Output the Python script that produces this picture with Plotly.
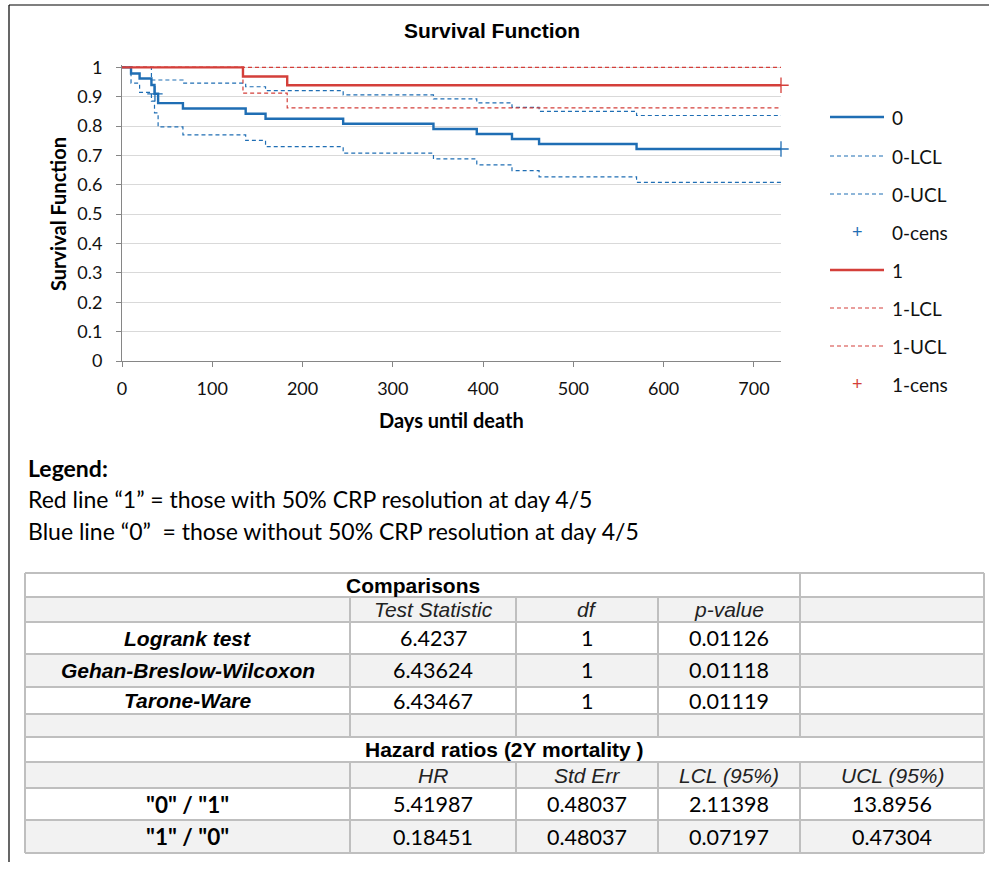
import plotly.graph_objects as go

# ---------------- data ----------------
days0 = [0, 10, 19.5, 32.6, 36, 40, 67.5, 137, 159, 245, 345, 393, 432, 462, 570, 730]
surv0 = [1, 0.979, 0.962, 0.940, 0.910, 0.878, 0.860, 0.842, 0.825, 0.808, 0.790, 0.773, 0.756, 0.739, 0.722, 0.722]
lcl0 = [1, 0.946, 0.915, 0.885, 0.845, 0.797, 0.770, 0.751, 0.730, 0.708, 0.688, 0.668, 0.648, 0.627, 0.608, 0.608]
ucl0 = [1, 1, 1, 0.957, 0.957, 0.957, 0.946, 0.934, 0.921, 0.906, 0.8925, 0.879, 0.864, 0.850, 0.836, 0.836]
cens0_days = [36.5, 730]
cens0_surv = [0.910, 0.722]

days1 = [0, 134, 183, 730]
surv1 = [1, 0.969, 0.939, 0.939]
lcl1 = [1, 0.912, 0.862, 0.862]
ucl1 = [1, 1, 1, 1]
cens1_days = [730]
cens1_surv = [0.939]

legend_names = ["0", "0-LCL", "0-UCL", "0-cens", "1", "1-LCL", "1-UCL", "1-cens"]

x_ticks = [0, 100, 200, 300, 400, 500, 600, 700]
y_ticks = [0, 0.1, 0.2, 0.3, 0.4, 0.5, 0.6, 0.7, 0.8, 0.9, 1]
y_tick_labels = ["0", "0.1", "0.2", "0.3", "0.4", "0.5", "0.6", "0.7", "0.8", "0.9", "1"]

note_title = "Legend:"
note_lines = ["Red line \u201c1\u201d = those with 50% CRP resolution at day 4/5",
              "Blue line \u201c0\u201d  = those without 50% CRP resolution at day 4/5"]

comp_header = "Comparisons"
comp_cols = ["Test Statistic", "df", "p-value"]
comp_rows = ["Logrank test", "Gehan-Breslow-Wilcoxon", "Tarone-Ware"]
comp_stat = ["6.4237", "6.43624", "6.43467"]
comp_df = ["1", "1", "1"]
comp_p = ["0.01126", "0.01118", "0.01119"]

hr_header = "Hazard ratios (2Y mortality )"
hr_cols = ["HR", "Std Err", "LCL (95%)", "UCL (95%)"]
hr_rows = ['"0" / "1"', '"1" / "0"']
hr_val = ["5.41987", "0.18451"]
hr_se = ["0.48037", "0.48037"]
hr_lcl = ["2.11398", "0.07197"]
hr_ucl = ["13.8956", "0.47304"]

# ---------------- styling ----------------
BLUE = "#1f6eb4"
RED = "#d43f3a"
W, H = 989, 869
ML, MR, MT, MB = 122, 208, 65, 508
PW, PH = W - ML - MR, H - MT - MB
CAL = "Lato, 'Noto Sans', sans-serif"
ARI = "'Liberation Sans', Arial, sans-serif"


def px(x):
    return (x - ML) / PW


def py(y):
    return (H - MB - y) / PH


fig = go.Figure()

def step(x, y, color, width, dash):
    fig.add_trace(go.Scatter(x=x, y=y, mode="lines", line=dict(color=color, width=width, dash=dash, shape="hv"),
                             showlegend=False, hoverinfo="skip"))

step(days0, lcl0, BLUE, 1.2, "4px,3px")
step(days0, ucl0, BLUE, 1.2, "4px,3px")
step(days1, lcl1, RED, 1.2, "4px,3px")
step(days1, ucl1, RED, 1.2, "4px,3px")
step(days0, surv0, BLUE, 2.4, "solid")
step(days1, surv1, RED, 2.4, "solid")
fig.add_trace(go.Scatter(x=cens0_days, y=cens0_surv, mode="markers", cliponaxis=False,
                         marker=dict(symbol="cross-thin", size=11, line=dict(color=BLUE, width=1.3)),
                         showlegend=False, hoverinfo="skip"))
fig.add_trace(go.Scatter(x=cens1_days, y=cens1_surv, mode="markers", cliponaxis=False,
                         marker=dict(symbol="cross-thin", size=11, line=dict(color=RED, width=1.3)),
                         showlegend=False, hoverinfo="skip"))

shapes = []
annotations = []

def line(x0, y0, x1, y1, color, width=1, dash="solid"):
    shapes.append(dict(type="line", xref="paper", yref="paper", x0=px(x0), y0=py(y0), x1=px(x1), y1=py(y1),
                       line=dict(color=color, width=width, dash=dash)))

def rect(x0, y0, x1, y1, fill):
    shapes.append(dict(type="rect", xref="paper", yref="paper", x0=px(x0), y0=py(y0), x1=px(x1), y1=py(y1),
                       line=dict(width=0), fillcolor=fill, layer="below"))

def text(x, y, s, size, family, color="#000", bold=False, italic=False, anchor="center", angle=0):
    if bold:
        s = "<b>" + s + "</b>"
    if italic:
        s = "<i>" + s + "</i>"
    annotations.append(dict(x=px(x), y=py(y), xref="paper", yref="paper", text=s, showarrow=False,
                            xanchor=anchor, yanchor="middle", textangle=angle,
                            font=dict(size=size, family=family, color=color)))

# frame lines
line(9, 5, 989, 5, "#000", 1.2)
line(9, 5, 9, 862, "#000", 1.2)

# titles
text(492, 30, "Survival Function", 21, ARI, bold=True)
text(451, 420, "Days until death", 20, CAL, bold=True)
text(58, 214, "Survival Function", 20, CAL, bold=True, angle=-90)

# legend (manual)
leg_y = [117, 156, 194, 232, 270, 308, 346, 384]
leg_style = [(BLUE, "solid"), (BLUE, "dash"), (BLUE, "dash"), (BLUE, "cens"),
             (RED, "solid"), (RED, "dash"), (RED, "dash"), (RED, "cens")]
for name, yy, (col, kind) in zip(legend_names, leg_y, leg_style):
    if kind == "solid":
        line(830, yy, 884, yy, col, 2.4)
    elif kind == "dash":
        line(830, yy, 884, yy, col, 1.2, "4px,3px")
    else:
        text(857, yy, "+", 18, ARI, color=col)
    text(890, yy, name, 19, CAL, color="#111", anchor="left")

# note text
text(26, 468, note_title, 23, CAL, bold=True, anchor="left")
text(26, 499, note_lines[0], 23, CAL, anchor="left")
text(26, 531, note_lines[1], 23, CAL, anchor="left")

# table
cols = [25, 350, 516, 658, 800, 984]
rows = [573, 597, 622, 654, 687, 714, 737, 762, 788, 820, 853]
GRAY = "#f2f2f2"
GRID = "#bfbfbf"
for r in [1, 3, 5, 7, 9]:
    rect(cols[0], rows[r], cols[-1], rows[r + 1], GRAY)
for yy in rows:
    line(cols[0], yy, cols[-1], yy, GRID, 2)
line(cols[0], rows[0], cols[0], rows[-1], GRID, 2)
line(cols[-1], rows[0], cols[-1], rows[-1], GRID, 2)
for r in range(len(rows) - 1):
    for ci in range(1, 5):
        if r == 0 and ci < 4:
            continue
        if r == 6:
            continue
        line(cols[ci], rows[r], cols[ci], rows[r + 1], GRID, 2)

def mid(i):
    return (rows[i] + rows[i + 1]) / 2

def cmid(i):
    return (cols[i] + cols[i + 1]) / 2

NUM = 21.5
HDR = 21
text((cols[0] + cols[4]) / 2, mid(0), comp_header, HDR, ARI, bold=True)
for j, c in enumerate(comp_cols):
    text(cmid(j + 1), mid(1), c, HDR, ARI, color="#222", italic=True)
for i, lab in enumerate(comp_rows):
    text(cmid(0), mid(2 + i), lab, HDR, ARI, bold=True, italic=True)
    text(cmid(1), mid(2 + i), comp_stat[i], NUM, CAL)
    text(cmid(2), mid(2 + i), comp_df[i], NUM, CAL)
    text(cmid(3), mid(2 + i), comp_p[i], NUM, CAL)

text((cols[0] + cols[5]) / 2, mid(6), hr_header, HDR, ARI, bold=True)
for j, c in enumerate(hr_cols):
    text(cmid(j + 1), mid(7), c, HDR, ARI, color="#222", italic=True)
for i, lab in enumerate(hr_rows):
    text(cmid(0), mid(8 + i), lab, 22.5, CAL, bold=True)
    text(cmid(1), mid(8 + i), hr_val[i], NUM, CAL)
    text(cmid(2), mid(8 + i), hr_se[i], NUM, CAL)
    text(cmid(3), mid(8 + i), hr_lcl[i], NUM, CAL)
    text(cmid(4), mid(8 + i), hr_ucl[i], NUM, CAL)

fig.update_layout(
    width=W, height=H,
    margin=dict(l=ML, r=MR, t=MT, b=MB, autoexpand=False),
    paper_bgcolor="white", plot_bgcolor="white",
    showlegend=False,
    shapes=shapes, annotations=annotations,
    xaxis=dict(range=[0, 730], tickvals=x_ticks, ticks="outside", ticklen=5, tickcolor="#868686",
               ticklabelstandoff=6,
               showline=True, linecolor="#868686", linewidth=1, showgrid=False, zeroline=False,
               tickfont=dict(family=CAL, size=18, color="#111"), fixedrange=True),
    yaxis=dict(range=[0, 1.008], tickvals=y_ticks, ticktext=y_tick_labels, ticks="outside", ticklen=5,
               ticklabelstandoff=10,
               tickcolor="#868686", showline=True, linecolor="#868686", linewidth=1,
               showgrid=True, gridcolor="#d9d9d9", gridwidth=1, zeroline=False,
               tickfont=dict(family=CAL, size=18, color="#111"), fixedrange=True),
)

fig.write_html("out.html", config={"displayModeBar": False},
               post_script="document.body.style.margin='0';document.body.style.overflow='hidden';")
